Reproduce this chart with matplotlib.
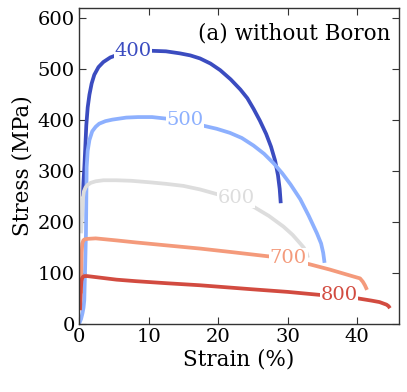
import matplotlib
matplotlib.use("Agg")
import matplotlib.pyplot as plt
import numpy as np

# Data
temps = ["400", "500", "600", "700", "800"]

strain_400 = [0.55, 0.65, 0.77, 0.9, 1.05, 1.25, 1.5, 1.82, 2.2, 2.8, 3.5, 4.5, 5.5, 7, 8.5, 10.5, 12.5, 14.5, 16,
              17.4, 18.9, 20.3, 21.8, 23.2, 24.2, 25.1, 26.0, 26.9, 27.6, 28.2, 28.6, 28.85, 29.0]
stress_400 = [250, 280, 308, 345, 390, 425, 450, 472, 489, 504, 514, 523, 528, 532, 535, 536, 535, 531, 527,
              521, 511, 498, 480, 460, 443, 422, 399, 373, 348, 320, 292, 265, 237]

strain_500 = [0, 0.3, 0.5, 0.65, 0.76, 0.88, 1.0, 1.1, 1.25, 1.5, 1.9, 2.4, 2.9, 3.8, 4.8, 6.8, 8.5, 10.5, 12.5, 15,
              17.9, 19.8, 21.7, 23.4, 25.1, 26.6, 28.0, 29.2, 30.4, 31.8, 33.0, 34.2, 34.8, 35.1, 35.3]
stress_500 = [0, 10, 21, 32, 47, 110, 178, 308, 340, 361, 378, 387, 393, 398, 401, 405, 406, 406, 403, 397,
              389, 383, 375, 365, 350, 334, 315, 296, 274, 245, 213, 178, 158, 140, 120]

strain_600 = [0.3, 0.45, 0.55, 0.7, 0.95, 1.25, 1.7, 2.4, 3.5, 5.4, 7.5, 10.2, 12.5, 15, 17.4, 20.3, 22.5, 25.1,
              27.3, 29.4, 30.7, 31.8, 32.3, 32.7, 32.9]
stress_600 = [178, 215, 245, 260, 268, 273, 277, 280, 282, 282, 281, 278, 275, 271, 264, 253, 244, 230,
              212, 191, 175, 158, 150, 140, 130]

strain_700 = [0.3, 0.32, 0.38, 0.48, 0.62, 0.8, 1.2, 2.4, 5.4, 8.2, 12, 17.4, 22, 27.7, 30, 33.2, 36, 38.0,
              39.5, 40.4, 40.8, 41.1, 41.4]
stress_700 = [60, 100, 140, 158, 164, 166, 167, 168, 164, 160, 155, 148, 141, 132, 127, 117, 107, 99,
              93, 89.5, 83, 76, 67]

strain_800 = [0.15, 0.2, 0.27, 0.35, 0.45, 0.6, 0.76, 1.2, 3, 5.4, 8.2, 12.6, 17.4, 25, 30, 34.7, 37, 40.2,
              42, 43.2, 43.8, 44.2, 44.5, 44.7]
stress_800 = [27, 45, 70, 85, 90, 93, 94, 94, 91, 87, 84, 80, 76, 68, 63, 57, 54, 50,
              46, 43, 40, 38, 35, 31]

label_strain = [7.8, 15.2, 22.6, 30.1, 37.4]

x_ticks = [0, 10, 20, 30, 40]
y_ticks = [0, 100, 200, 300, 400, 500, 600]

colors = ["#3b4cc0", "#8db0fe", "#dddddd", "#f49a7b", "#d24b40"]

series = [(strain_400, stress_400), (strain_500, stress_500), (strain_600, stress_600),
          (strain_700, stress_700), (strain_800, stress_800)]

plt.rcParams['font.family'] = ['DejaVu Serif']

fig = plt.figure(figsize=(4.07, 3.92), dpi=100)
ax = fig.add_axes([79/407, 1 - 324/392, 320/407, 316/392])

for (xs, ys), c, lab, lx in zip(series, colors, temps, label_strain):
    ax.plot(xs, ys, color=c, lw=2.7, solid_capstyle='butt', solid_joinstyle='round', zorder=2)
    ly = np.interp(lx, xs, ys)
    ax.text(lx, ly + 3, lab, color=c, fontsize=14, ha='center', va='center', zorder=5,
            bbox=dict(facecolor='white', edgecolor='none', pad=0.4))

ax.set_xlim(0, 46)
ax.set_ylim(0, 620)
ax.set_xticks(x_ticks)
ax.set_yticks(y_ticks)
ax.tick_params(direction='in', top=True, right=True, length=5, width=0.8,
               labelsize=14, pad=3, colors='#333333', labelcolor='black')
for s in ax.spines.values():
    s.set_linewidth(1.0)
    s.set_color('#333333')

ax.set_xlabel("Strain (%)", fontsize=15.5, labelpad=2)
ax.set_ylabel("Stress (MPa)", fontsize=15.5, labelpad=3)
ax.text(0.975, 0.955, "(a) without Boron", transform=ax.transAxes, ha='right', va='top', fontsize=15.5)

fig.savefig("out.png", dpi=100)
